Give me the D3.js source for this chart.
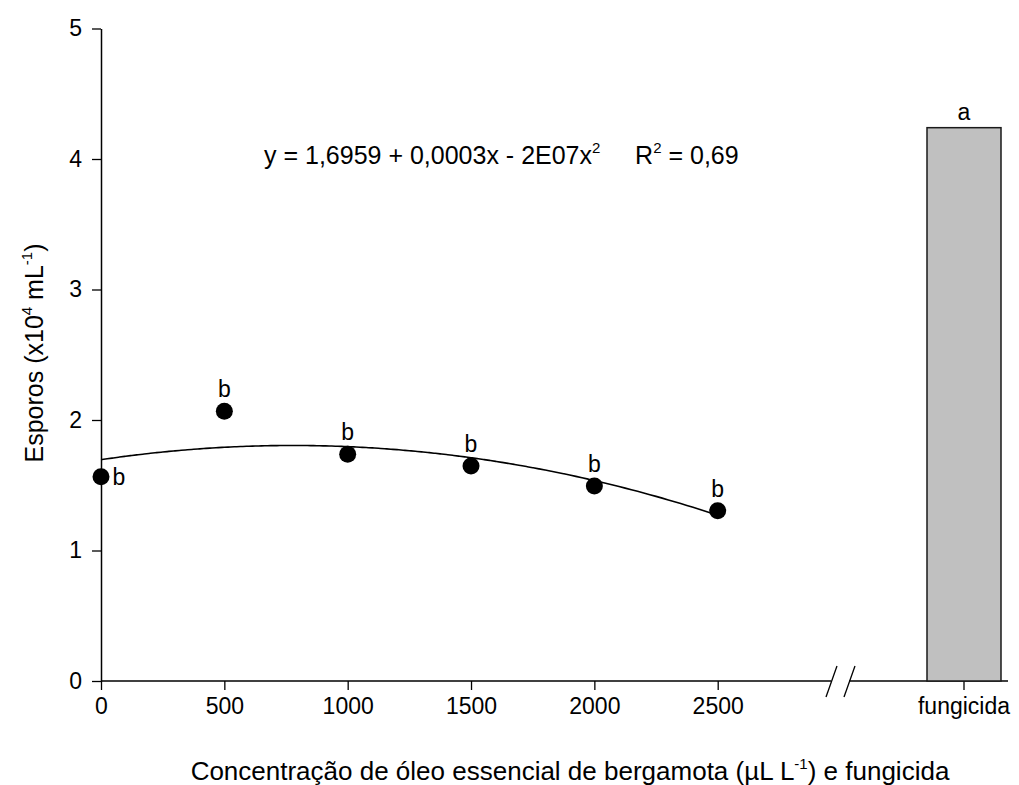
<!DOCTYPE html>
<html>
<head>
<meta charset="utf-8">
<script src="https://cdn.jsdelivr.net/npm/d3@7"></script>
<style>
  html, body { margin: 0; padding: 0; background: #fff; }
  svg { display: block; font-family: "Liberation Sans", Arial, sans-serif; }
</style>
</head>
<body>
<svg id="chart" width="1019" height="785"></svg>
<script>
// Oil concentrations (µL L-1) and mean spore counts (x10^4 mL-1)
const concentrations = [0, 500, 1000, 1500, 2000, 2500];
const spores = [1.565, 2.067, 1.737, 1.648, 1.494, 1.305];
const letters = ["b", "b", "b", "b", "b", "b"];

// Fungicide treatment
const fungCategories = ["fungicida"];
const fungValues = [4.24];
const fungLetters = ["a"];

// Quadratic fit coefficients (a + b·x + c·x²)
const fitCoef = [1.6959, 0.00028, -1.8e-7];

const xTicks = [0, 500, 1000, 1500, 2000, 2500];
const yTicks = [0, 1, 2, 3, 4, 5];

const svg = d3.select("#chart");
const font = 23;
const bigFont = 25;
const supFont = 15;
const FAMILY = "Liberation Sans, Arial, sans-serif";

const x = d3.scaleLinear().domain([0, 2500]).range([101, 717.7]);
const y = d3.scaleLinear().domain([0, 5]).range([681, 28.5]);
const xb = d3.scaleBand().domain(fungCategories).range([927, 1001]).padding(0);

function styleTicks(g) {
  g.selectAll(".tick line").attr("stroke", "#000").attr("stroke-width", 1.3);
  g.selectAll(".tick text").attr("font-size", font).attr("fill", "#000").attr("font-family", FAMILY);
}

// Y axis
const yAxis = svg.append("g")
  .attr("transform", `translate(${x(0)},0)`)
  .call(d3.axisLeft(y).tickValues(yTicks).tickFormat(d3.format("d")).tickSize(9).tickSizeOuter(0).tickPadding(10));
yAxis.select(".domain").attr("stroke", "#000").attr("stroke-width", 1.5);
styleTicks(yAxis);

// X axis (numeric part)
const xAxis = svg.append("g")
  .attr("transform", `translate(0,${y(0)})`)
  .call(d3.axisBottom(x).tickValues(xTicks).tickFormat(d3.format("d")).tickSize(9).tickPadding(8));
xAxis.select(".domain").remove();
styleTicks(xAxis);

// X axis (fungicide category)
const xAxis2 = svg.append("g")
  .attr("transform", `translate(0,${y(0)})`)
  .call(d3.axisBottom(xb).tickSize(9).tickPadding(8));
xAxis2.select(".domain").remove();
styleTicks(xAxis2);

// Axis baseline with a break before the fungicide category
const y0 = y(0);
const breakL = 831, breakR = 849;
svg.append("line").attr("x1", x(0)).attr("x2", breakL).attr("y1", y0).attr("y2", y0)
  .attr("stroke", "#000").attr("stroke-width", 1.5);
svg.append("line").attr("x1", breakR).attr("x2", 1008).attr("y1", y0).attr("y2", y0)
  .attr("stroke", "#000").attr("stroke-width", 1.5);
[826, 844].forEach(bx => {
  svg.append("line").attr("x1", bx).attr("y1", y0 + 16).attr("x2", bx + 11).attr("y2", y0 - 15)
    .attr("stroke", "#000").attr("stroke-width", 1.3);
});

// Fungicide bar
svg.selectAll("rect.bar").data(fungValues).enter().append("rect")
  .attr("class", "bar")
  .attr("x", (d, i) => xb(fungCategories[i]))
  .attr("width", xb.bandwidth())
  .attr("y", d => y(d))
  .attr("height", d => y(0) - y(d))
  .attr("fill", "#c0c0c0").attr("stroke", "#1a1a1a").attr("stroke-width", 1.5);
svg.selectAll("text.barlab").data(fungValues).enter().append("text")
  .attr("class", "barlab")
  .attr("x", (d, i) => xb(fungCategories[i]) + xb.bandwidth() / 2)
  .attr("y", d => y(d) - 8)
  .attr("text-anchor", "middle").attr("font-size", font)
  .text((d, i) => fungLetters[i]);

// Fitted curve
const fit = v => fitCoef[0] + fitCoef[1] * v + fitCoef[2] * v * v;
const curveX = d3.range(0, 2501, 25);
svg.append("path")
  .datum(curveX)
  .attr("fill", "none").attr("stroke", "#000").attr("stroke-width", 1.6)
  .attr("d", d3.line().x(d => x(d)).y(d => y(fit(d))).curve(d3.curveBasis));

// Observed means
svg.selectAll("circle.pt").data(spores).enter().append("circle")
  .attr("class", "pt")
  .attr("cx", (d, i) => x(concentrations[i]))
  .attr("cy", d => y(d))
  .attr("r", 8.5).attr("fill", "#000");

// Significance letters
svg.selectAll("text.ptlab").data(spores).enter().append("text")
  .attr("class", "ptlab")
  .attr("x", (d, i) => i === 0 ? x(concentrations[i]) + 18 : x(concentrations[i]))
  .attr("y", (d, i) => i === 0 ? y(d) + 8 : y(d) - 14)
  .attr("text-anchor", "middle").attr("font-size", font)
  .text((d, i) => letters[i]);

// Regression equation
const eq = svg.append("text").attr("x", 264).attr("y", 164).attr("font-size", bigFont);
eq.append("tspan").text("y = 1,6959 + 0,0003x - 2E07x");
eq.append("tspan").attr("font-size", supFont).attr("dy", -11).text("2");
eq.append("tspan").attr("dy", 11).text("\u00a0\u00a0\u00a0\u00a0\u00a0R");
eq.append("tspan").attr("font-size", supFont).attr("dy", -11).text("2");
eq.append("tspan").attr("dy", 11).text(" = 0,69");

// Axis titles
const xt = svg.append("text").attr("x", 570).attr("y", 780).attr("text-anchor", "middle").attr("font-size", 26);
xt.append("tspan").text("Concentração de óleo essencial de bergamota (µL L");
xt.append("tspan").attr("font-size", supFont).attr("dy", -11).text("-1");
xt.append("tspan").attr("dy", 11).text(") e fungicida");

const yt = svg.append("text")
  .attr("transform", "translate(43,353) rotate(-90)")
  .attr("text-anchor", "middle").attr("font-size", bigFont);
yt.append("tspan").text("Esporos (x10");
yt.append("tspan").attr("font-size", supFont).attr("dy", -11).text("4");
yt.append("tspan").attr("dy", 11).text(" mL");
yt.append("tspan").attr("font-size", supFont).attr("dy", -11).text("-1");
yt.append("tspan").attr("dy", 11).text(")");
</script>
</body>
</html>
